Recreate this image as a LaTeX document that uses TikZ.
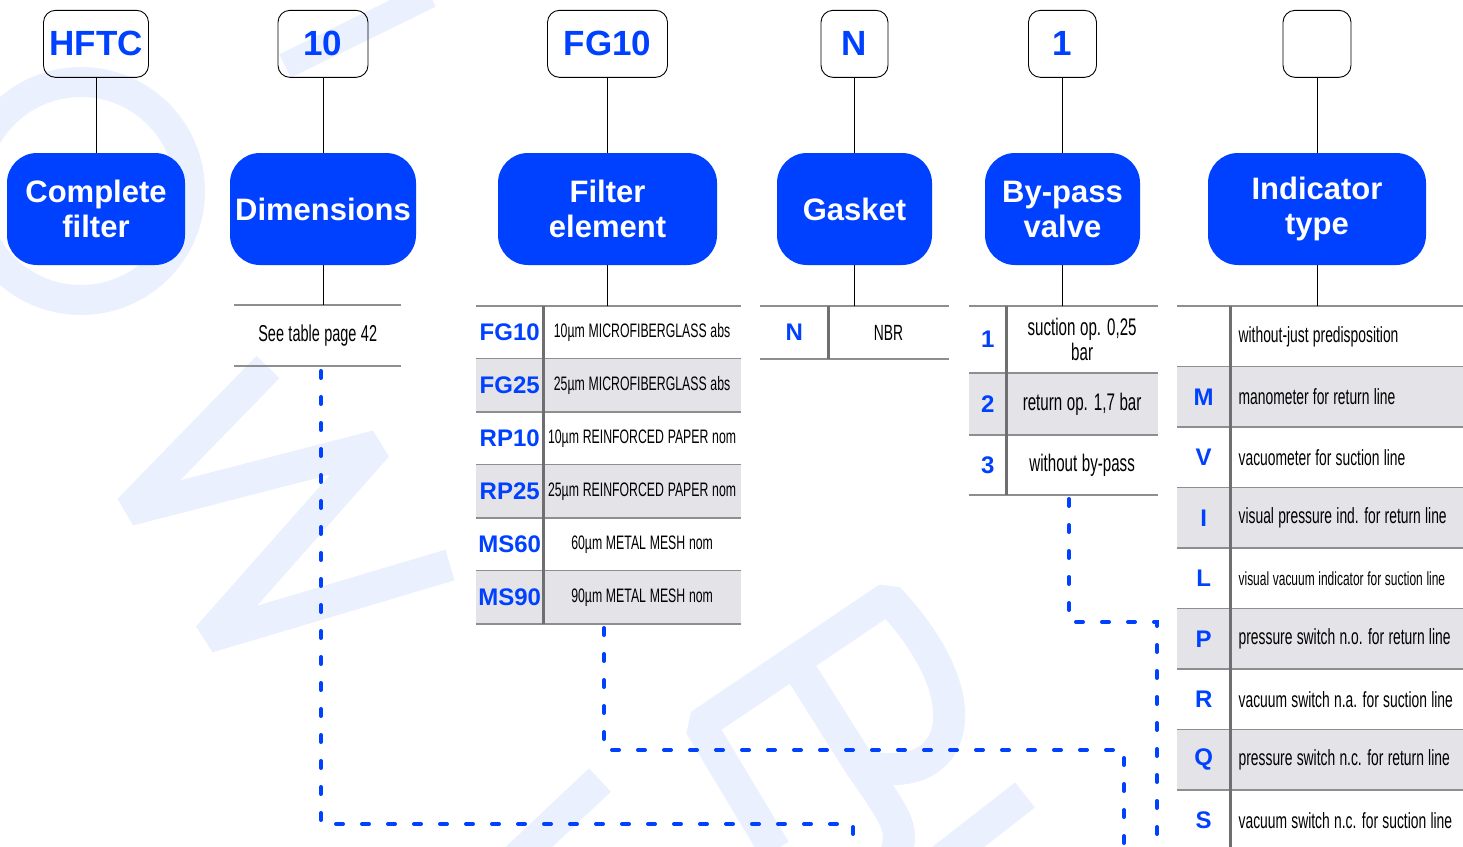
\documentclass[tikz,border=0pt]{standalone}
\usepackage{fontspec}
\setmainfont{Liberation Sans}
\newfontfamily\narrowfont[FakeStretch=0.63, WordSpace=1.1]{Liberation Sans}
\usepackage{tikz}
\usetikzlibrary{positioning, calc}
\definecolor{omtBlue}{HTML}{0041FF}
\definecolor{omtRow}{HTML}{E4E4E8}
\definecolor{omtRule}{HTML}{8E8E90}
\definecolor{omtSplit}{HTML}{6F6F72}
\definecolor{omtMark}{HTML}{EAF0FD}
\newcommand{\dscsize}[1]{\narrowfont\fontsize{#1}{#1}\selectfont}

\begin{document}
\begin{tikzpicture}[x=1pt,y=-1pt,codebox/.style={draw, rounded corners=12pt, line width=0.9pt, minimum height=67pt, inner sep=0pt, text=omtBlue, font=\bfseries\fontsize{35}{38}\selectfont},headbox/.style={fill=omtBlue, rounded corners=30pt, minimum height=112pt, inner sep=0pt, align=center, text=white, font=\bfseries\fontsize{31}{35}\selectfont},link/.style={line width=0.9pt},optline/.style={omtBlue, line width=4pt, line cap=round, dash pattern=on 7pt off 19pt},rowcell/.style={inner sep=0pt, anchor=north west, minimum height=53pt},codecell/.style={rowcell, text=omtBlue, font=\bfseries\fontsize{24}{25}\selectfont},desccell/.style={rowcell, font=\dscsize{19.5}},rule/.style={omtRule, line width=2pt},split/.style={omtSplit, line width=2.5pt},wmark/.style={omtMark, line width=32pt}]
\useasboundingbox (0,0) rectangle (1463,846);
% faint watermark
\draw[wmark, line width=30pt] (81,191) circle (109);
\draw[wmark, line width=26pt] (285,66)--(430,-5);
\draw[wmark, line join=bevel] (268,367)--(129,510)--(377,446)--(208,637)--(450,565);
\draw[wmark, line join=bevel] (775,850)--(700,725)--(888,598) .. controls (985,700) and (960,790) .. (860,765)--(800,670);
\draw[wmark] (860,765) .. controls (905,830) .. (890,870);
\draw[wmark] (600,780)--(515,860); \draw[wmark] (1025,795)--(935,865);
% heads and codes
\node[headbox, minimum width=178pt] (hComplete) at (96,209) {Complete\\filter};
\node[headbox, minimum width=186pt] (hDim) at (323,209) {Dimensions};
\node[headbox, minimum width=219pt] (hFilter) at (607.5,209) {Filter\\element};
\node[headbox, minimum width=155pt] (hGasket) at (854.5,209) {Gasket};
\node[headbox, minimum width=155pt] (hValve) at (1062.5,209) {By-pass\\valve};
\node[headbox, minimum width=218pt] (hIndic) at (1317,209) {Indicator\\type};
\node[codebox, minimum width=105pt, above=75pt of hComplete] (kComplete) {HFTC};
\node[codebox, minimum width=90pt, above=75pt of hDim] (kDim) {10};
\node[codebox, minimum width=120pt, above=75pt of hFilter] (kFilter) {FG10};
\node[codebox, minimum width=67pt, above=75pt of hGasket] (kGasket) {N};
\node[codebox, minimum width=68pt, above=75pt of hValve] (kValve) {1};
\node[codebox, minimum width=68pt, above=75pt of hIndic] (kIndic) {};
\foreach \n in {Complete, Dim, Filter, Gasket, Valve, Indic} \draw[link] (k\n.south)--(h\n.north);
% dimensions
\node[desccell, minimum width=167pt, minimum height=61pt, font=\dscsize{23}] (dd1) at (234,305) {See table page 42};
\draw[rule] (dd1.north west)--(dd1.north east); \draw[rule] (dd1.south west)--(dd1.south east);
\draw[link] (hDim.south)--(hDim.south|-dd1.north);
% filter element
\foreach \code/\fl/\text [count=\i] in {FG10/none/10µm MICROFIBERGLASS abs, FG25/omtRow/25µm MICROFIBERGLASS abs, RP10/none/10µm REINFORCED PAPER nom, RP25/omtRow/25µm REINFORCED PAPER nom, MS60/none/60µm METAL MESH nom, MS90/omtRow/90µm METAL MESH nom} {
\node[codecell, minimum width=67pt, fill=\fl] (fc\i) at (476,{306+53*(\i-1)}) {\code};
\node[desccell, minimum width=197pt, fill=\fl, right=0pt of fc\i] (fd\i) {\text};
\draw[rule] (fc\i.south west)--(fd\i.south east);}
\draw[rule] (fc1.north west)--(fd1.north east); \draw[split] (fc1.north east)--(fc6.south east);
\draw[link] (hFilter.south)--(hFilter.south|-fc1.north);
% gasket
\node[codecell, minimum width=68pt] (gc1) at (760,306) {N};
\node[desccell, minimum width=120pt, right=0pt of gc1, font=\dscsize{22}] (gd1) {NBR};
\draw[rule] (gc1.north west)--(gd1.north east); \draw[rule] (gc1.south west)--(gd1.south east); \draw[split] (gc1.north east)--(gc1.south east);
\draw[link] (hGasket.south)--(hGasket.south|-gc1.north);
% by-pass valve
\node[codecell, minimum width=37pt, minimum height=67pt] (vc1) at (969,306) {1};
\node[desccell, minimum width=151pt, minimum height=67pt, right=0pt of vc1, align=center, font=\narrowfont\fontsize{24}{25}\selectfont] (vd1) {suction op. 0,25\\bar};
\node[codecell, minimum width=37pt, minimum height=61pt, fill=omtRow, below=0pt of vc1.south west, anchor=north west] (vc2) {2};
\node[desccell, minimum width=151pt, minimum height=61pt, fill=omtRow, right=0pt of vc2, font=\dscsize{24}] (vd2) {return op. 1,7 bar};
\node[codecell, minimum width=37pt, minimum height=60pt, below=0pt of vc2.south west, anchor=north west] (vc3) {3};
\node[desccell, minimum width=151pt, minimum height=60pt, right=0pt of vc3, font=\dscsize{24}] (vd3) {without by-pass};
\draw[rule] (vc1.north west)--(vd1.north east);
\foreach \i in {1,2,3} \draw[rule] (vc\i.south west)--(vd\i.south east);
\draw[split] (vc1.north east)--(vc3.south east);
\draw[link] (hValve.south)--(hValve.south|-vc1.north);
% indicator type
\foreach \code/\fl/\text [count=\i] in {\phantom{M}/none/without-just predisposition, M/omtRow/manometer for return line, V/none/vacuometer for suction line, I/omtRow/visual pressure ind. for return line, L/none/{\dscsize{19}visual vacuum indicator for suction line}, P/omtRow/pressure switch n.o. for return line, R/none/vacuum switch n.a. for suction line, Q/omtRow/pressure switch n.c. for return line, S/none/vacuum switch n.c. for suction line} {
\node[codecell, minimum width=53pt, minimum height=60.5pt, fill=\fl] (ic\i) at (1177,{306+60.5*(\i-1)}) {\code};
\node[desccell, minimum width=235pt, minimum height=60.5pt, inner xsep=8pt, fill=\fl, right=0pt of ic\i, font=\dscsize{22}] (id\i) {\makebox[219pt][l]{\text}};
\draw[rule] (ic\i.south west)--(id\i.south east);}
\draw[rule] (ic1.north west)--(id1.north east); \draw[split] (ic1.north east)--(ic9.south east);
\draw[link] (hIndic.south)--(hIndic.south|-ic1.north);
% option paths
\coordinate (dOut) at (321,371); \coordinate (dTurn) at (853,824); \coordinate (dEnd) at (853,852);
\coordinate (fOut) at (604,628); \coordinate (fTurn) at (1124,750); \coordinate (fEnd) at (1124,852);
\coordinate (vOut) at (1069,499); \coordinate (vTurn) at (1157,622); \coordinate (vEnd) at (1157,852);
\draw[optline] (dOut) |- (dTurn)--(dEnd);
\draw[optline] (fOut) |- (fTurn)--(fEnd);
\draw[optline] (vOut) |- (vTurn)--(vEnd);
\end{tikzpicture}
\end{document}
